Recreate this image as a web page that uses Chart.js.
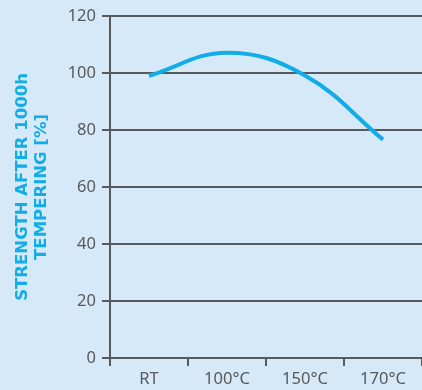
<!DOCTYPE html>
<html>
<head>
<meta charset="utf-8">
<script src="https://cdn.jsdelivr.net/npm/chart.js@4"></script>
<style>
  html, body { margin: 0; padding: 0; background: #d6e9f8; }
  #wrap { width: 422px; height: 390px; }
</style>
</head>
<body>
<div id="wrap"><canvas id="strengthChart" width="422" height="390"></canvas></div>
<script>
const categories = ['RT', '100°C', '150°C', '170°C'];
const strength = [99, 107.1, 99.1, 76.6];
const yTicks = [0, 20, 40, 60, 80, 100, 120];

const gray = '#58595b';
const cyan = '#12ade6';

const ctx = document.getElementById('strengthChart').getContext('2d');
new Chart(ctx, {
  type: 'line',
  data: {
    labels: categories,
    datasets: [{
      data: strength,
      borderColor: cyan,
      borderWidth: 4,
      borderCapStyle: 'butt',
      pointRadius: 0,
      tension: 0.4,
      fill: false
    }]
  },
  options: {
    responsive: false,
    animation: false,
    layout: { padding: { top: 15, right: 0, left: 0, bottom: 0 } },
    plugins: { legend: { display: false }, tooltip: { enabled: false } },
    scales: {
      x: {
        offset: true,
        border: { color: gray, width: 2 },
        grid: { drawOnChartArea: false, color: gray, lineWidth: 2, tickLength: 8, offset: true },
        ticks: { color: gray, font: { family: 'Noto Sans', size: 16.5 }, padding: 3 },
        afterFit: s => { s.height = 32; }
      },
      y: {
        min: 0,
        max: 120,
        afterBuildTicks: s => { s.ticks = yTicks.map(v => ({ value: v })); },
        border: { color: gray, width: 2 },
        grid: { color: gray, lineWidth: 2, tickLength: 8 },
        ticks: { color: gray, font: { family: 'Noto Sans', size: 16.5 }, padding: 6 },
        title: {
          display: true,
          text: ['STRENGTH AFTER 1000h', 'TEMPERING [%]'],
          color: cyan,
          font: { family: 'DejaVu Sans', size: 16.5, weight: 'bold', lineHeight: 1.1 },
          padding: { top: 14 }
        },
        afterFit: s => { s.width = 110; }
      }
    }
  }
});
</script>
</body>
</html>
